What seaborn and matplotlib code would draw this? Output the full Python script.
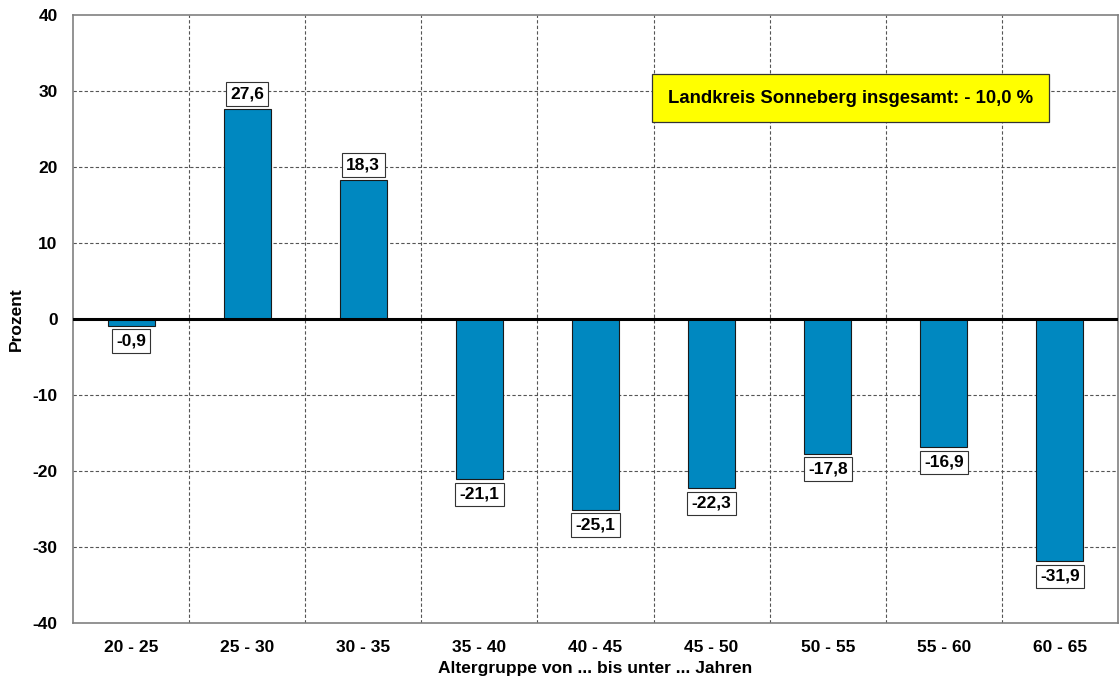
import matplotlib
matplotlib.use("Agg")
import matplotlib.pyplot as plt
import seaborn as sns
import pandas as pd

# Altersgruppen und Veraenderung in Prozent
gruppen = ["20 - 25", "25 - 30", "30 - 35", "35 - 40", "40 - 45",
           "45 - 50", "50 - 55", "55 - 60", "60 - 65"]
werte = [-0.9, 27.6, 18.3, -21.1, -25.1, -22.3, -17.8, -16.9, -31.9]
gesamt_text = "Landkreis Sonneberg insgesamt: - 10,0 %"

df = pd.DataFrame({"gruppe": gruppen, "wert": werte})

sns.set_style("white")
plt.rcParams["font.family"] = ["Liberation Sans", "DejaVu Sans"]
plt.rcParams["axes.unicode_minus"] = False
plt.rcParams["text.color"] = "black"
plt.rcParams["axes.labelcolor"] = "black"
plt.rcParams["xtick.color"] = "black"
plt.rcParams["ytick.color"] = "black"

fig = plt.figure(figsize=(11.2, 6.8), dpi=100)
ax = fig.add_axes([0.0652, 0.084, 0.933, 0.894])

sns.barplot(data=df, x="gruppe", y="wert", color="#0088C0", width=0.405,
            edgecolor="#1a1a1a", linewidth=0.8, saturation=1, ax=ax, zorder=3)

ax.set_ylim(-40, 40)
ax.set_xlim(-0.5, len(gruppen) - 0.5)
ax.set_yticks(range(-40, 41, 10))

# Gitter
for yv in range(-30, 40, 10):
    ax.axhline(yv, color="#555555", linestyle=(0, (3, 2)), linewidth=0.8, zorder=1)
for xv in range(1, len(gruppen)):
    ax.axvline(xv - 0.5, color="#555555", linestyle=(0, (3, 2)), linewidth=0.8, zorder=1)
ax.axhline(0, color="black", linewidth=2.2, zorder=4)

for s in ax.spines.values():
    s.set_color("#808080")
    s.set_linewidth(1.2)

ax.tick_params(axis="y", length=0, labelsize=12.5, pad=11)
ax.tick_params(axis="x", length=0, labelsize=12.5, pad=12)
for lbl in ax.get_xticklabels() + ax.get_yticklabels():
    lbl.set_fontweight("bold")

ax.set_xlabel("Altergruppe von ... bis unter ... Jahren", fontsize=12.5,
              fontweight="bold", labelpad=5)
ax.set_ylabel("Prozent", fontsize=12.5, fontweight="bold", labelpad=6)

# Wertbeschriftungen
for i, v in enumerate(werte):
    txt = f"{v:.1f}".replace(".", ",")
    off = 1.0 if v >= 0 else -1.0
    ax.text(i, v + off, txt, ha="center", va="bottom" if v >= 0 else "top",
            fontsize=12.5, fontweight="bold", zorder=5,
            bbox=dict(boxstyle="square,pad=0.25", facecolor="white",
                      edgecolor="#333333", linewidth=0.8))

ax.text(0.744, 0.863, gesamt_text, transform=ax.transAxes, ha="center",
        va="center", fontsize=13.3, fontweight="bold", zorder=6,
        bbox=dict(boxstyle="square,pad=0.85", facecolor="#FFFF00",
                  edgecolor="#333333", linewidth=0.9))

fig.savefig("out.png", dpi=100)
